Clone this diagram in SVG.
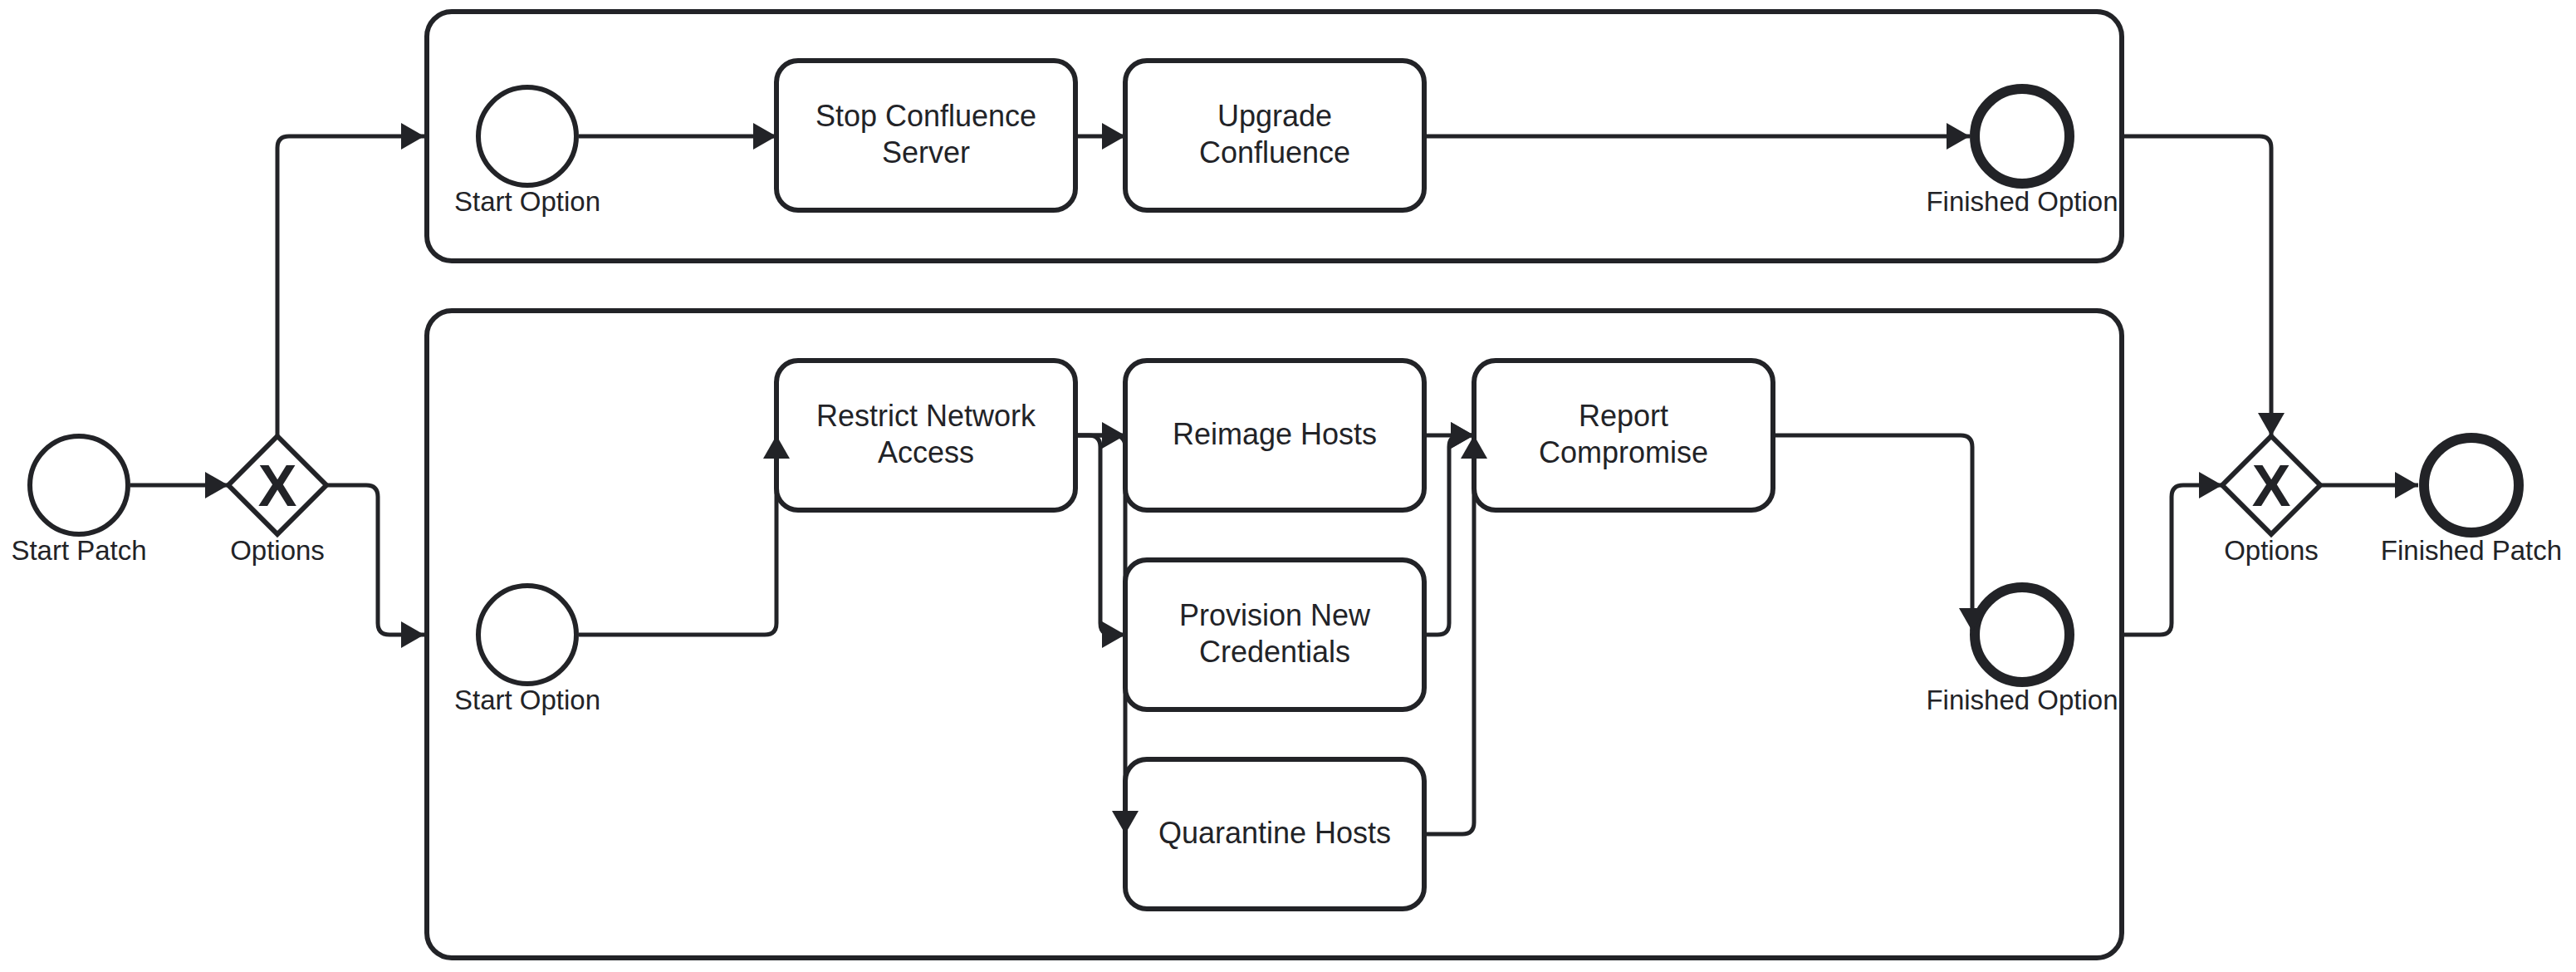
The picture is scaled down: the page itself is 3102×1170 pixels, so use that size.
<svg xmlns="http://www.w3.org/2000/svg" width="3102" height="1170" viewBox="0 0 3102 1170">
<style>
.pool{fill:none;stroke:#222327;stroke-width:6}
.task{fill:#ffffff;stroke:#222327;stroke-width:6}
.ev{fill:#ffffff;stroke:#222327;stroke-width:6}
.end{fill:#ffffff;stroke:#222327;stroke-width:12}
.gw{fill:#ffffff;stroke:#222327;stroke-width:6}
.conn path{fill:none;stroke:#222327;stroke-width:5;marker-end:url(#arr)}
text{font-family:"Liberation Sans",Arial,sans-serif;fill:#222327}
.t{font-size:36px;text-anchor:middle}
.l{font-size:33px;text-anchor:middle}
.x{font-size:70px;font-weight:bold;text-anchor:middle}
</style>
<defs>
<marker id="arr" markerUnits="userSpaceOnUse" markerWidth="30" markerHeight="34" refX="28" refY="16" orient="auto">
<path d="M0,0 L28,16 L0,32 Z" fill="#222327"/>
</marker>
</defs>
<rect width="3102" height="1170" fill="#ffffff"/>
<g id="pool-top"><rect class="pool" x="514" y="14" width="2041" height="300" rx="30"/></g>
<g id="pool-bottom"><rect class="pool" x="514" y="374" width="2041" height="779" rx="30"/></g>
<g id="start-patch"><circle class="ev" cx="95" cy="584" r="59"/><text class="l" x="95" y="674">Start Patch</text></g>
<g id="gw-left"><polygon class="gw" points="334,525 393,584 334,643 275,584"/><text class="x" x="334" y="609">X</text><text class="l" x="334" y="674">Options</text></g>
<g id="start-top"><circle class="ev" cx="635" cy="164" r="59"/><text class="l" x="635" y="254">Start Option</text></g>
<g id="task-stop"><rect class="task" x="935" y="73" width="360" height="180" rx="26"/><text class="t" x="1115" y="152">Stop Confluence</text><text class="t" x="1115" y="196">Server</text></g>
<g id="task-upgrade"><rect class="task" x="1355" y="73" width="360" height="180" rx="26"/><text class="t" x="1535" y="152">Upgrade</text><text class="t" x="1535" y="196">Confluence</text></g>
<g id="end-top"><circle class="end" cx="2435" cy="164" r="57"/><text class="l" x="2435" y="254">Finished Option</text></g>
<g id="start-bottom"><circle class="ev" cx="635" cy="764" r="59"/><text class="l" x="635" y="854">Start Option</text></g>
<g id="task-restrict"><rect class="task" x="935" y="434" width="360" height="180" rx="26"/><text class="t" x="1115" y="513">Restrict Network</text><text class="t" x="1115" y="557">Access</text></g>
<g id="task-reimage"><rect class="task" x="1355" y="434" width="360" height="180" rx="26"/><text class="t" x="1535" y="535">Reimage Hosts</text></g>
<g id="task-provision"><rect class="task" x="1355" y="674" width="360" height="180" rx="26"/><text class="t" x="1535" y="753">Provision New</text><text class="t" x="1535" y="797">Credentials</text></g>
<g id="task-quarantine"><rect class="task" x="1355" y="914" width="360" height="180" rx="26"/><text class="t" x="1535" y="1015">Quarantine Hosts</text></g>
<g id="task-report"><rect class="task" x="1775" y="434" width="360" height="180" rx="26"/><text class="t" x="1955" y="513">Report</text><text class="t" x="1955" y="557">Compromise</text></g>
<g id="end-bottom"><circle class="end" cx="2435" cy="764" r="57"/><text class="l" x="2435" y="854">Finished Option</text></g>
<g id="gw-right"><polygon class="gw" points="2735,525 2794,584 2735,643 2676,584"/><text class="x" x="2735" y="609">X</text><text class="l" x="2735" y="674">Options</text></g>
<g id="end-patch"><circle class="end" cx="2976" cy="584" r="57"/><text class="l" x="2976" y="674">Finished Patch</text></g>
<g class="conn" id="connectors">
<path d="M157,584 H275"/>
<path d="M334,525 V178 Q334,164 348,164 H511"/>
<path d="M393,584 H441 Q455,584 455,598 V750 Q455,764 469,764 H511"/>
<path d="M697,164 H935"/>
<path d="M1295,164 H1355"/>
<path d="M1715,164 H2372"/>
<path d="M697,764 H921 Q935,764 935,750 V524"/>
<path d="M1295,524 H1355"/>
<path d="M1295,524 H1311 Q1325,524 1325,538 V750 Q1325,764 1339,764 H1355"/>
<path d="M1295,524 H1341 Q1355,524 1355,538 V1004"/>
<path d="M1715,524 H1775"/>
<path d="M1715,764 H1731 Q1745,764 1745,750 V538 Q1745,524 1759,524 H1775"/>
<path d="M1715,1004 H1761 Q1775,1004 1775,990 V524"/>
<path d="M2135,524 H2361 Q2375,524 2375,538 V760"/>
<path d="M2555,164 H2721 Q2735,164 2735,178 V525"/>
<path d="M2555,764 H2601 Q2615,764 2615,750 V598 Q2615,584 2629,584 H2676"/>
<path d="M2794,584 H2912"/>
</g>
</svg>
